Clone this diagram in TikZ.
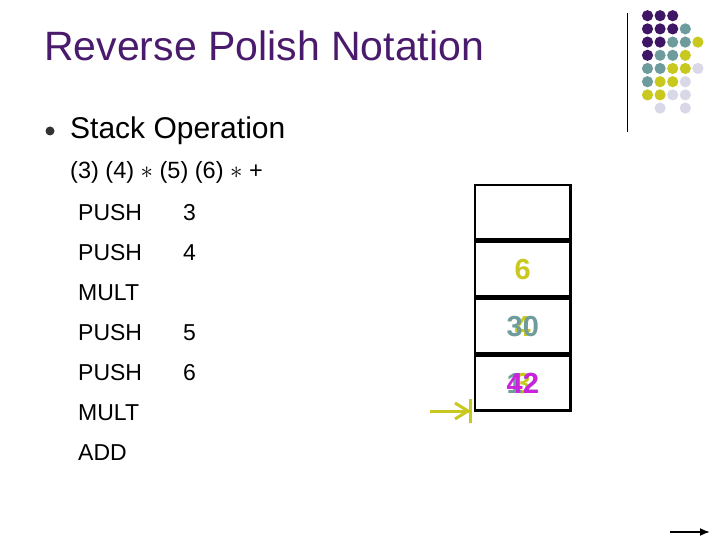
\documentclass[tikz,border=0pt]{standalone}
\usepackage{fontspec}
\setmainfont{Liberation Sans}
\usetikzlibrary{arrows.meta}
\definecolor{tpurple}{HTML}{4A1A6C}
\definecolor{dP}{HTML}{3F1565}
\definecolor{dT}{HTML}{6E9C9C}
\definecolor{dY}{HTML}{C8C81E}
\definecolor{dL}{HTML}{D8D8E8}
\definecolor{dN}{HTML}{FFFFFF}
\definecolor{mag}{HTML}{CC22DD}
\begin{document}
\begin{tikzpicture}[x=1pt,y=-1pt,
  lbl/.style={anchor=west,font=\fontsize{23}{25}\selectfont,inner sep=0pt},
  cell/.style={draw,line width=2.5pt,minimum width=95.5pt,minimum height=54.5pt,inner sep=0pt,outer sep=0pt},
  num/.style={font=\bfseries\fontsize{29}{31}\selectfont}]
\useasboundingbox (0,0) rectangle (720,540);
\node[anchor=west,inner sep=0pt,text=tpurple,font=\fontsize{41}{43}\selectfont] (title) at (44,46) {Reverse Polish Notation};
\draw (627,13) -- (627,132);
\foreach \r/\row in {0/{P,P,P},1/{P,P,P,T},2/{P,P,T,T,Y},3/{P,T,T,Y},4/{T,T,Y,Y,L},5/{T,Y,Y,L},6/{Y,Y,L,L},7/{N,L,N,L}}{
  \foreach \c [count=\i from 0] in \row {
    \fill[d\c] (647.5+12.6*\i,15.7+13.2*\r) circle (5.6);
  }}
\fill[black!80] (50,131) circle (4.5);
\node[anchor=west,inner sep=0pt,font=\fontsize{30}{32}\selectfont] (so) at (70,131) {Stack Operation};
\node[anchor=west,inner sep=0pt,font=\fontsize{23.5}{25}\selectfont] (ex) at (70,172) {(3) (4) $\ast$ (5) (6) $\ast$ +};
\foreach \t/\y/\n in {PUSH/213/a,PUSH/253/b,MULT/293/c,PUSH/333/d,PUSH/373/e,MULT/413/f,ADD/453/g}
  \node[lbl] (\n) at (78,\y) {\t};
\foreach \t/\y/\n in {3/213/va,4/253/vb,5/333/vd,6/373/ve}
  \node[lbl] (\n) at (183,\y) {\t};
\node[cell,anchor=north west] (c1) at (475,185) {};
\node[cell,anchor=north] (c2) at ([yshift=-2.5pt]c1.south) {};
\node[cell,anchor=north] (c3) at ([yshift=-2.5pt]c2.south) {};
\node[cell,anchor=north] (c4) at ([yshift=-2.5pt]c3.south) {};
\node[num,text=dY] (n6) at (c2.center) {6};
\node[num,text=dY] (n4) at (c3.center) {4};
\node[num,text=dT] (n30) at (c3.center) {30};
\node[num,text=dY] (n3) at (c4.center) {3};
\node[num,text=dT] (n12) at (c4.center) {12};
\node[num,text=mag] (n42) at (c4.center) {42};
\coordinate (ptA) at (430,411);
\coordinate (ptB) at (470,411);
\draw[dY,line width=3pt] (ptA) -- (ptB);
\draw[dY,line width=3pt] (470,399) -- (470,423);
\draw[dY,line width=3pt] (455,403) -- (468,411) -- (455,419);
\coordinate (pC) at (670,532);
\coordinate (pD) at (710,532);
\draw[line width=1.8pt,-{Latex[length=10pt,width=8pt]}] (pC) -- (pD);
\end{tikzpicture}
\end{document}
